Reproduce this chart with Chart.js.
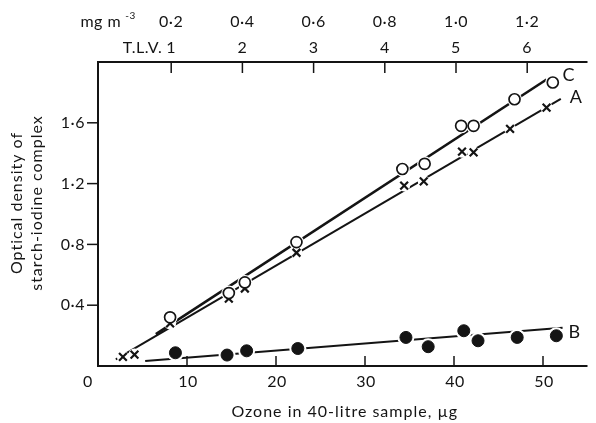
<!DOCTYPE html>
<html>
<head>
<meta charset="utf-8">
<script src="https://cdn.jsdelivr.net/npm/chart.js@4.4.1/dist/chart.umd.min.js"></script>
<style>
  html, body { margin: 0; padding: 0; background: #fff; }
</style>
</head>
<body>
<canvas id="chart" width="596" height="423"></canvas>
<script>
// Curve C - open circles
const ozoneC = [8.1, 14.7, 16.5, 22.3, 34.2, 36.7, 40.8, 42.2, 46.8, 51.1];
const densityC = [0.32, 0.48, 0.55, 0.815, 1.296, 1.33, 1.58, 1.58, 1.755, 1.865];
// Curve A - crosses
const ozoneA = [2.8, 4.1, 8.1, 14.7, 16.5, 22.3, 34.4, 36.6, 40.9, 42.2, 46.3, 50.4];
const densityA = [0.06, 0.075, 0.28, 0.443, 0.51, 0.745, 1.187, 1.215, 1.41, 1.405, 1.56, 1.70];
// Curve B - filled circles
const ozoneB = [8.7, 14.5, 16.7, 22.45, 34.6, 37.1, 41.1, 42.7, 47.1, 51.5];
const densityB = [0.087, 0.072, 0.10, 0.115, 0.188, 0.127, 0.232, 0.166, 0.188, 0.199];

// fitted straight lines, end points
const fitCx = [6.5, 50.4];
const fitCy = [0.21, 1.885];
const fitAx = [2.0, 52.0];
const fitAy = [0.043, 1.757];
const fitBx = [5.3, 52.2];
const fitBy = [0.033, 0.252];

// ticks
const xTicks = [0, 10, 20, 30, 40, 50];
const yTicks = [0.4, 0.8, 1.2, 1.6];
const yTickLabels = ['0·4', '0·8', '1·2', '1·6'];
const tlvTicks = [1, 2, 3, 4, 5, 6];
const mgTickLabels = ['0·2', '0·4', '0·6', '0·8', '1·0', '1·2'];
const ugPerTlv = 8; // 0.2 mg/m3 in 40 litres = 8 ug

const pts = (xs, ys) => xs.map((v, i) => ({ x: v, y: ys[i] }));
const ink = '#141414';
const font = '16px Lato';

function seg(ctx, x1, y1, x2, y2) {
  ctx.beginPath();
  ctx.moveTo(x1, y1);
  ctx.lineTo(x2, y2);
  ctx.stroke();
}

const axesPlugin = {
  id: 'axes',
  afterDatasetsDraw(chart) {
    const { ctx, chartArea: a, scales: { x, y } } = chart;
    ctx.save();
    ctx.strokeStyle = ink;
    ctx.fillStyle = ink;
    ctx.lineWidth = 2;
    ctx.beginPath();
    ctx.moveTo(a.right, a.top);
    ctx.lineTo(a.left, a.top);
    ctx.lineTo(a.left, a.bottom);
    ctx.lineTo(a.right, a.bottom);
    ctx.stroke();

    ctx.lineWidth = 1.5;
    ctx.font = font;
    ctx.letterSpacing = '0.5px';
    ctx.textBaseline = 'middle';

    // bottom axis, ticks point inward
    ctx.textAlign = 'center';
    xTicks.forEach(v => {
      const px = x.getPixelForValue(v);
      if (v === 0) {
        ctx.fillText('0', px - 10, a.bottom + 16);
        return;
      }
      seg(ctx, px, a.bottom, px, a.bottom - 10);
      ctx.fillText(String(v), px + 1, a.bottom + 16);
    });

    // left axis, ticks outward
    ctx.textAlign = 'right';
    yTicks.forEach((v, i) => {
      const py = y.getPixelForValue(v);
      seg(ctx, a.left, py, a.left - 11, py);
      ctx.fillText(yTickLabels[i], a.left - 13, py);
    });

    // top axis: T.L.V. and mg m-3
    ctx.textAlign = 'center';
    tlvTicks.forEach((n, i) => {
      const px = x.getPixelForValue(n * ugPerTlv) + 2;
      seg(ctx, px, a.top, px, a.top + 11);
      ctx.fillText(String(n), px, a.top - 14);
      ctx.fillText(mgTickLabels[i], px, a.top - 40);
    });
    const p1 = x.getPixelForValue(ugPerTlv) + 2;
    ctx.textAlign = 'right';
    ctx.fillText('T.L.V.', p1 - 9, a.top - 14);
    ctx.fillText('mg m', p1 - 50, a.top - 40);
    ctx.font = '10px Lato';
    ctx.textAlign = 'left';
    ctx.fillText('-3', p1 - 46, a.top - 46);

    // axis titles
    ctx.font = font;
    ctx.letterSpacing = '1px';
    ctx.textAlign = 'center';
    ctx.fillText('Ozone in 40-litre sample, µg', (a.left + a.right) / 2 + 2, a.bottom + 46);
    ctx.save();
    ctx.translate(17, 203);
    ctx.rotate(-Math.PI / 2);
    ctx.fillText('Optical density of', 0, 0);
    ctx.fillText('starch-iodine complex', 0, 20);
    ctx.restore();

    // curve labels at line ends
    ctx.font = '18px Lato';
    ctx.letterSpacing = '0px';
    ctx.textAlign = 'left';
    ctx.fillText('C', x.getPixelForValue(fitCx[1]) + 16, y.getPixelForValue(fitCy[1]) - 4);
    ctx.fillText('A', x.getPixelForValue(fitAx[1]) + 9, y.getPixelForValue(fitAy[1]) - 2);
    ctx.fillText('B', x.getPixelForValue(fitBx[1]) + 6, y.getPixelForValue(fitBy[1]) + 4);
    ctx.restore();
  }
};

const lineDs = (xs, ys, w) => ({
  data: pts(xs, ys), showLine: true, borderColor: ink, borderWidth: w,
  pointRadius: 0, order: 3
});
const haloDs = (xs, ys, r) => ({
  data: pts(xs, ys), showLine: false, pointRadius: r, pointStyle: 'circle',
  pointBackgroundColor: '#fff', pointBorderColor: '#fff', pointBorderWidth: 0, order: 2
});

new Chart(document.getElementById('chart'), {
  type: 'scatter',
  data: {
    datasets: [
      lineDs(fitCx, fitCy, 2.6),
      lineDs(fitAx, fitAy, 2),
      lineDs(fitBx, fitBy, 2),
      haloDs(ozoneC, densityC, 7.5),
      haloDs(ozoneA, densityA, 6),
      haloDs(ozoneB, densityB, 8.5),
      {
        label: 'C', data: pts(ozoneC, densityC), pointStyle: 'circle', pointRadius: 5.5,
        pointBackgroundColor: '#fff', pointBorderColor: ink, pointBorderWidth: 1.7, order: 1
      },
      {
        label: 'A', data: pts(ozoneA, densityA), pointStyle: 'crossRot', pointRadius: 5.5,
        pointBorderColor: ink, pointBorderWidth: 2.2, order: 1
      },
      {
        label: 'B', data: pts(ozoneB, densityB), pointStyle: 'circle', pointRadius: 6,
        pointBackgroundColor: ink, pointBorderColor: ink, pointBorderWidth: 1, order: 1
      }
    ]
  },
  options: {
    responsive: false,
    animation: false,
    devicePixelRatio: 1,
    layout: { padding: { left: 98, top: 62, right: 0, bottom: 57 } },
    scales: {
      x: { type: 'linear', min: 0, max: 55, display: false },
      y: { type: 'linear', min: 0, max: 2.0, display: false }
    },
    plugins: { legend: { display: false }, tooltip: { enabled: false } }
  },
  plugins: [axesPlugin]
});
</script>
</body>
</html>
